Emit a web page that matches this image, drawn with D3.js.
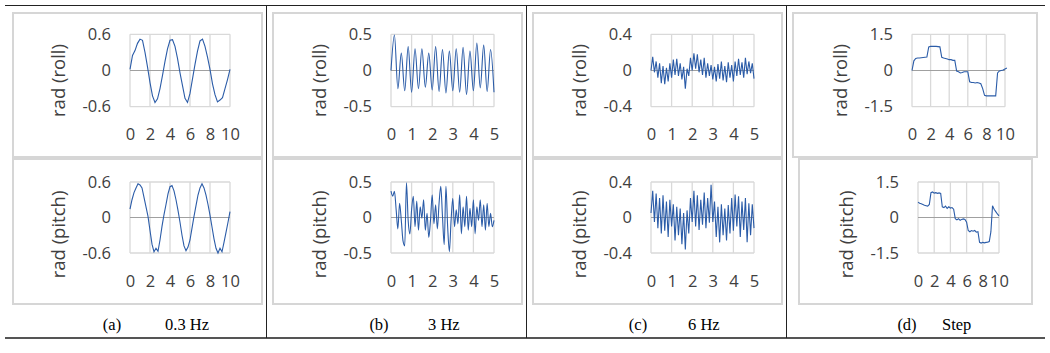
<!DOCTYPE html>
<html>
<head>
<meta charset="utf-8">
<script src="https://cdn.jsdelivr.net/npm/d3@7"></script>
<style>
  body { margin: 0; background: #fff; }
  .tick text { font-family: "Open Sans", "Noto Sans", sans-serif; fill: #404040; }
  .ytitle { font-family: "Open Sans", "Noto Sans", sans-serif; fill: #404040; }
  .caption { font-family: "Liberation Serif", "DejaVu Serif", serif; fill: #000; font-weight: normal; }
</style>
</head>
<body>
<svg id="chart"></svg>
<script>
// ---- data ----
const captionLabels = ["(a)", "(b)", "(c)", "(d)"];
const captionTexts = ["0.3 Hz", "3 Hz", "6 Hz", "Step"];
const rowTitles = ["rad (roll)", "rad (pitch)"];

const xTicksLong = [0, 2, 4, 6, 8, 10];
const xTicksShort = [0, 1, 2, 3, 4, 5];
const yTicksA = [0.6, 0, -0.6];
const yTicksB = [0.5, 0, -0.5];
const yTicksC = [0.4, 0, -0.4];
const yTicksD = [1.5, 0, -1.5];
const yLabelsA = ["0.6", "0", "-0.6"];
const yLabelsB = ["0.5", "0", "-0.5"];
const yLabelsC = ["0.4", "0", "-0.4"];
const yLabelsD = ["1.5", "0", "-1.5"];

// sampling interval (s) of each series
const dtRollA = 0.25, dtPitchA = 0.2;
const dtRollB = 1 / 6, dtPitchB = 1 / 12;
const dtRollC = 1 / 12, dtPitchC = 1 / 12;
const dtRollD = 0.2, dtPitchD = 0.2;

// (a) 0.3 Hz
const rollA = [0.02, 0.25, 0.33, 0.45, 0.52, 0.50, 0.30, 0.06, -0.20, -0.42, -0.53, -0.47, -0.30, -0.08,
  0.15, 0.36, 0.50, 0.51, 0.40, 0.20, -0.04, -0.25, -0.46, -0.53, -0.38, -0.14, 0.10, 0.32, 0.49,
  0.52, 0.40, 0.22, 0.02, -0.22, -0.40, -0.52, -0.49, -0.45, -0.30, -0.15, 0.02];
const pitchA = [0.14, 0.30, 0.42, 0.50, 0.57, 0.55, 0.50, 0.34, 0.18, 0.02, -0.22, -0.45, -0.58, -0.52,
  -0.57, -0.38, -0.15, 0.05, 0.22, 0.40, 0.52, 0.54, 0.45, 0.30, 0.12, -0.08, -0.30, -0.48, -0.56,
  -0.50, -0.38, -0.18, 0.02, 0.20, 0.38, 0.50, 0.57, 0.50, 0.38, 0.22, 0.04, -0.16, -0.36, -0.52,
  -0.60, -0.52, -0.58, -0.42, -0.25, -0.08, 0.10];

// (b) 3 Hz
const rollB = [0.00, 0.49, -0.25, 0.24, -0.28, 0.33, -0.30, 0.30, -0.25, 0.30, -0.23, 0.24, -0.27, 0.33,
  -0.29, 0.29, -0.31, 0.27, -0.28, 0.30, -0.30, 0.32, -0.33, 0.27, -0.28, 0.38, -0.24, 0.35, -0.29,
  0.29, -0.30];
const pitchB = [0.37, 0.30, 0.37, 0.11, -0.16, 0.20, -0.04, -0.33, -0.40, 0.49, -0.04, -0.23, 0.11, 0.30,
  -0.13, 0.23, -0.18, 0.15, -0.01, 0.25, -0.18, 0.06, -0.28, -0.04, 0.32, -0.09, 0.18, -0.16, 0.20,
  0.44, 0.01, -0.38, 0.44, -0.13, -0.48, -0.04, 0.27, -0.13, 0.11, -0.09, 0.32, -0.23, 0.15, -0.13,
  0.30, -0.18, 0.13, -0.13, 0.25, -0.23, 0.15, -0.04, 0.25, -0.13, 0.18, -0.18, 0.20, -0.13, 0.06,
  -0.13, -0.04];

// (c) 6 Hz
const rollC = [0.00, 0.15, -0.02, 0.10, -0.08, 0.08, -0.14, 0.05, -0.15, 0.03, -0.12, 0.08, -0.08, 0.12,
  -0.05, 0.13, -0.06, 0.08, -0.10, 0.04, -0.20, 0.02, -0.06, 0.14, 0.00, 0.19, 0.02, 0.18, -0.02,
  0.12, -0.05, 0.14, -0.08, 0.08, -0.06, 0.06, -0.10, 0.04, -0.12, 0.07, -0.09, 0.10, -0.11, 0.05,
  -0.13, 0.09, -0.08, 0.06, -0.12, 0.10, -0.06, 0.13, -0.05, 0.09, -0.08, 0.14, -0.04, 0.10, -0.03,
  0.08, -0.09];
const pitchC = [0.05, 0.30, -0.05, 0.27, -0.12, 0.22, -0.18, 0.25, -0.15, 0.18, -0.22, 0.20, -0.10, 0.15,
  -0.26, 0.12, -0.20, 0.10, -0.30, 0.05, -0.36, 0.08, -0.18, 0.22, -0.05, 0.30, -0.10, 0.25, -0.14,
  0.20, -0.08, 0.28, -0.12, 0.22, -0.06, 0.37, -0.05, 0.18, -0.22, 0.12, -0.28, 0.15, -0.20, 0.10,
  -0.26, 0.14, -0.18, 0.22, -0.15, 0.26, -0.10, 0.24, -0.22, 0.18, -0.14, 0.22, -0.28, 0.16, -0.20,
  0.15, -0.12];

// (d) Step
const rollD = [0.00, 0.40, 0.50, 0.52, 0.52, 0.53, 0.54, 0.55, 0.56, 0.98, 1.00, 1.00, 1.00, 1.00, 0.99,
  0.98, 0.55, 0.52, 0.50, 0.48, 0.45, 0.45, 0.42, 0.42, -0.02, -0.05, -0.10, -0.08, -0.05, -0.05,
  -0.05, -0.47, -0.50, -0.50, -0.52, -0.50, -0.52, -0.55, -0.75, -1.03, -1.05, -1.05, -1.05, -1.05,
  -1.05, -1.05, -0.10, -0.02, 0.00, 0.02, 0.06, 0.10];
const pitchD = [0.65, 0.60, 0.58, 0.55, 0.52, 0.50, 0.48, 0.55, 1.05, 1.08, 1.03, 1.05, 1.02, 1.04, 1.02,
  0.45, 0.42, 0.48, 0.38, 0.45, 0.40, 0.42, 0.35, -0.05, -0.10, -0.05, -0.12, -0.08, -0.06, -0.08,
  -0.20, -0.55, -0.60, -0.55, -0.58, -0.55, -0.62, -0.60, -1.05, -1.08, -1.05, -1.07, -1.05, -1.04,
  -1.02, -0.60, 0.50, 0.35, 0.25, 0.15, 0.07];

// ---- layout (pixel positions of the table cells) ----
const W = 1050, H = 353;
const cols = [
  { xMax: 10, xTicks: xTicksLong, yMax: 0.6, yTicks: yTicksA, yLabels: yLabelsA,
    series: [[rollA, dtRollA], [pitchA, dtPitchA]], curve: d3.curveLinear,
    boxes: [[13, 13, 249, 144], [13, 159, 249, 145]],
    plots: [[130, 34.3, 100, 72.4], [130, 182, 100, 71]], cap: [112, 165] },
  { xMax: 5, xTicks: xTicksShort, yMax: 0.5, yTicks: yTicksB, yLabels: yLabelsB,
    series: [[rollB, dtRollB], [pitchB, dtPitchB]], curve: d3.curveMonotoneX,
    boxes: [[273, 13, 249, 144], [273, 159, 249, 145]],
    plots: [[391, 34.3, 103, 72.4], [391, 182, 103, 71]], cap: [379, 428] },
  { xMax: 5, xTicks: xTicksShort, yMax: 0.4, yTicks: yTicksC, yLabels: yLabelsC,
    series: [[rollC, dtRollC], [pitchC, dtPitchC]], curve: d3.curveLinear,
    boxes: [[533, 13, 249, 144], [533, 159, 249, 145]],
    plots: [[651, 34.3, 103, 72.4], [651, 182, 103, 71]], cap: [638, 688] },
  { xMax: 10, xTicks: xTicksLong, yMax: 1.5, yTicks: yTicksD, yLabels: yLabelsD,
    series: [[rollD, dtRollD], [pitchD, dtPitchD]], curve: d3.curveLinear,
    boxes: [[793, 13, 244, 144], [799, 159, 233, 145]],
    plots: [[912, 34.3, 93, 72.4], [918, 182, 81, 71]], cap: [907, 942] }
];
const titleShift = [10, 17];

const svg = d3.select('#chart').attr('width', W).attr('height', H);

// table rules
svg.append('line').attr('x1', 5).attr('x2', 1045).attr('y1', 5.5).attr('y2', 5.5)
  .attr('stroke', '#222').attr('stroke-width', 1);
svg.append('line').attr('x1', 5).attr('x2', 1045).attr('y1', 338).attr('y2', 338)
  .attr('stroke', '#555').attr('stroke-width', 2);
[266.5, 526.5, 786.5].forEach(x => {
  svg.append('line').attr('x1', x).attr('x2', x).attr('y1', 5).attr('y2', 338)
    .attr('stroke', '#222').attr('stroke-width', 1);
});

cols.forEach((c, ci) => {
  c.series.forEach(([vals, dt], ri) => {
    const [bx, by, bw, bh] = c.boxes[ri];
    const [px, py, pw, ph] = c.plots[ri];

    // chart frame
    svg.append('rect').attr('x', bx).attr('y', by).attr('width', bw).attr('height', bh)
      .attr('fill', '#fff').attr('stroke', '#d6d6d6').attr('stroke-width', 2);

    const x = d3.scaleLinear().domain([0, c.xMax]).range([px, px + pw]);
    const y = d3.scaleLinear().domain([-c.yMax, c.yMax]).range([py + ph, py]);

    const g = svg.append('g');

    // vertical gridlines
    g.selectAll('.vg').data(c.xTicks).enter().append('line')
      .attr('x1', d => x(d)).attr('x2', d => x(d))
      .attr('y1', py).attr('y2', py + ph)
      .attr('stroke', '#d9d9d9').attr('stroke-width', 1.3);
    // horizontal gridlines at the outer ticks
    g.selectAll('.hg').data(c.yTicks.filter(d => d !== 0)).enter().append('line')
      .attr('x1', px).attr('x2', px + pw)
      .attr('y1', d => y(d)).attr('y2', d => y(d))
      .attr('stroke', '#d9d9d9').attr('stroke-width', 1.3);
    // zero axis
    g.append('line').attr('x1', px).attr('x2', px + pw)
      .attr('y1', y(0)).attr('y2', y(0))
      .attr('stroke', '#a0a0a0').attr('stroke-width', 1.2);

    // data line
    const line = d3.line()
      .x((d, i) => x(i * dt))
      .y(d => y(d))
      .curve(c.curve);
    g.append('path').datum(vals)
      .attr('d', line)
      .attr('fill', 'none')
      .attr('stroke', '#2b5ca8')
      .attr('stroke-width', 1.1);

    // axes
    const xa = g.append('g').attr('transform', `translate(0,${py + ph})`)
      .call(d3.axisBottom(x).tickValues(c.xTicks).tickSize(0).tickPadding(22).tickFormat(d => d));
    xa.select('.domain').remove();
    xa.selectAll('text').style('font-size', '16.5px');

    const ya = g.append('g').attr('transform', `translate(${px},0)`)
      .call(d3.axisLeft(y).tickValues(c.yTicks).tickSize(0).tickPadding(19)
        .tickFormat((d, i) => c.yLabels[i]));
    ya.select('.domain').remove();
    ya.selectAll('text').style('font-size', '16.5px');

    // axis title
    g.append('text').attr('class', 'ytitle')
      .attr('transform', `translate(${px - 71},${py + ph / 2 + titleShift[ri]}) rotate(-90)`)
      .attr('text-anchor', 'middle').attr('dy', '0.35em')
      .style('font-size', '18.5px')
      .text(rowTitles[ri]);
  });

  // caption
  svg.append('text').attr('class', 'caption')
    .attr('x', c.cap[0]).attr('y', 330).attr('text-anchor', 'middle')
    .style('font-size', '16.5px').text(captionLabels[ci]);
  svg.append('text').attr('class', 'caption')
    .attr('x', c.cap[1]).attr('y', 330)
    .style('font-size', '16.5px').text(captionTexts[ci]);
});
</script>
</body>
</html>
